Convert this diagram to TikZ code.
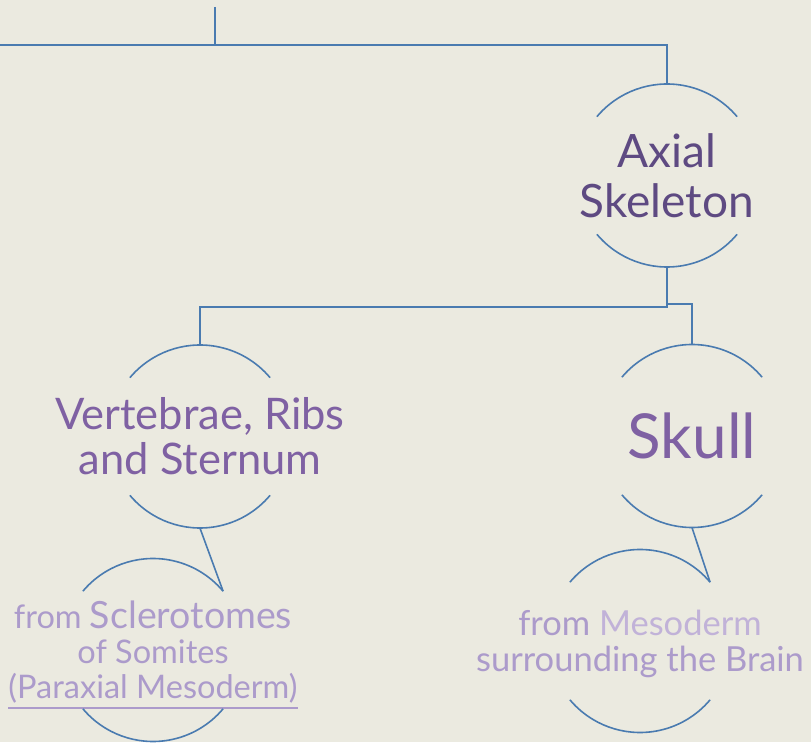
\documentclass[tikz,border=0pt]{standalone}
\usepackage{fontspec}
\setmainfont{Lato}
\definecolor{paper}{RGB}{235,234,224}
\definecolor{linkblue}{RGB}{74,123,176}
\definecolor{deeppurple}{RGB}{94,74,130}
\definecolor{midpurple}{RGB}{127,97,163}
\definecolor{palepurple}{RGB}{172,155,203}
\definecolor{paleerpurple}{RGB}{193,178,216}
\newcommand\bubbler{91.5}
\newcommand\bubblearcs[1]{%
  \draw[link] ([shift={(140:\bubbler)}]#1.center) arc[start angle=140,end angle=40,radius=\bubbler];
  \draw[link] ([shift={(220:\bubbler)}]#1.center) arc[start angle=220,end angle=320,radius=\bubbler];
  \coordinate (#1-ne) at ([shift={(40:\bubbler)}]#1.center);}
\newcommand\ulinetext[1]{\leavevmode\vtop{\hbox{#1}\kern3.5pt\hrule height 1.8pt}}
\begin{document}
\begin{tikzpicture}[x=1pt,y=1pt]
  \tikzset{link/.style={draw=linkblue, line width=1.6pt},
    bubble/.style={minimum height=183pt, inner sep=0pt, align=center}}
  \fill[paper] (0,0) rectangle (811,742);
  \useasboundingbox (0,0) rectangle (811,742);
  \node[bubble, text=deeppurple, font=\fontsize{46}{50}\selectfont] (axial) at (667,566.5) {Axial\\Skeleton};
  \node[bubble, text=midpurple, font=\fontsize{43.5}{45}\selectfont] (vert) at (200,305.5) {Vertebrae, Ribs\\and Sternum};
  \node[bubble, text=midpurple, font=\fontsize{62}{62}\selectfont] (skull) at (692,306) {Skull};
  \node[bubble, text=palepurple, text depth=-3pt, font=\fontsize{32.5}{35}\selectfont] (scler) at (153,92) {from {\fontsize{37.5}{35}\selectfont Sclerotomes}\\of Somites\\\ulinetext{(Paraxial Mesoderm)}};
  \node[bubble, text=palepurple, text depth=-7pt, font=\fontsize{34.5}{36}\selectfont] (meso) at (640,101) {from \textcolor{paleerpurple}{Mesoderm}\\surrounding the Brain};
  \foreach \n in {axial,vert,skull,scler,meso} {\bubblearcs{\n}}
  \coordinate (stem) at (215,735);
  \coordinate (bar) at (0,697);
  \draw[link] (stem) -- (stem |- bar);
  \draw[link] (bar) -| (axial.north);
  \draw[link] (axial.south) -- ++(0,-40) -| (vert.north);
  \draw[link] (axial.south) -- ++(0,-37) -| (skull.north);
  \draw[link] (vert.south) -- (scler-ne);
  \draw[link] (skull.south) -- (meso-ne);
\end{tikzpicture}
\end{document}
